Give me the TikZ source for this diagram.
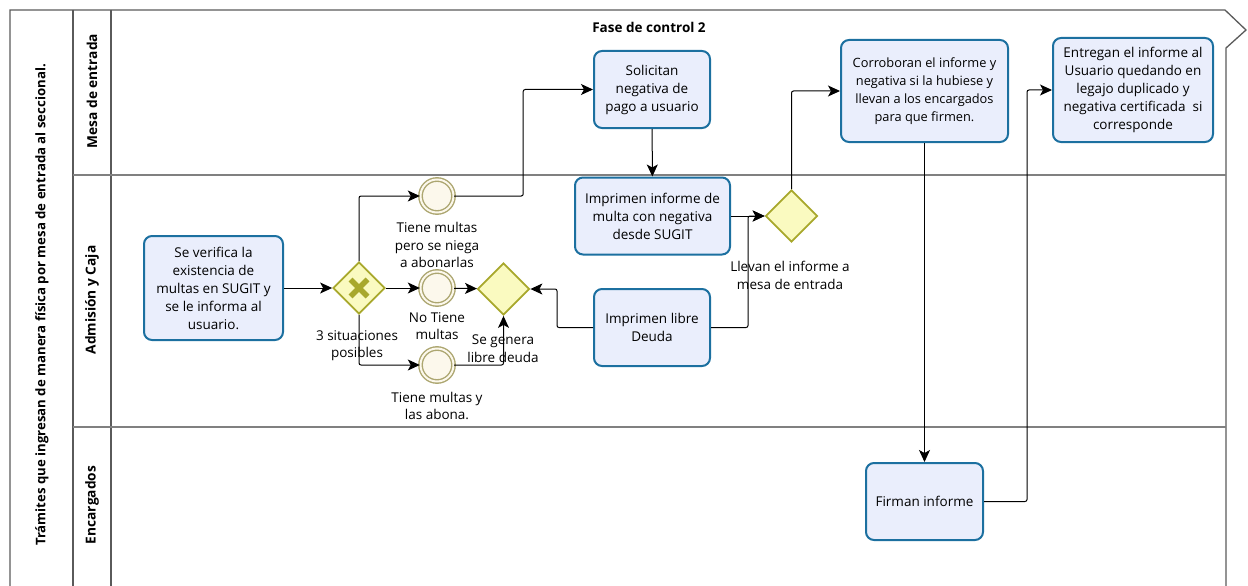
\documentclass[tikz,border=0pt]{standalone}
\usepackage{fontspec}
\setmainfont{Open Sans}
\usetikzlibrary{arrows.meta,shapes.geometric}
\definecolor{taskfill}{RGB}{234,238,252}
\definecolor{taskline}{RGB}{28,112,160}
\definecolor{gwfill}{RGB}{250,250,192}
\definecolor{gwline}{RGB}{168,168,44}
\definecolor{evfill}{RGB}{252,248,236}
\definecolor{evline}{RGB}{172,166,112}
\definecolor{poolline}{RGB}{90,90,90}
\definecolor{laneline}{RGB}{128,128,128}
\begin{document}
\begin{tikzpicture}[x=1pt,y=-1pt,
  task/.style={draw=taskline, line width=2pt, fill=taskfill, rounded corners=8pt,
    align=center, inner sep=2pt, font=\fontsize{13.5}{18}\selectfont},
  gate/.style={diamond, draw=gwline, fill=gwfill, line width=1.8pt,
    minimum width=52pt, minimum height=52pt, inner sep=0pt},
  evt/.style={circle, draw=evline, double=evfill, double distance=2pt,
    line width=1.4pt, fill=evfill, minimum size=33pt, inner sep=0pt},
  lbl/.style={align=center, font=\fontsize{13.5}{17.5}\selectfont, inner sep=0pt},
  lanetitle/.style={rotate=90, font=\bfseries\fontsize{13.7}{15}\selectfont, inner sep=0pt},
  flow/.style={draw=black, line width=1pt, rounded corners=2pt,
    -{Stealth[length=12pt,width=11pt,inset=3pt]}},
  pool/.style={draw=poolline, line width=1.3pt},
  lane/.style={draw=laneline, line width=1.5pt}]

\useasboundingbox (0,0) rectangle (1248,586);

% pool outline and phase header
\draw[pool] (10,586) -- (10,10) -- (1225,10) -- (1246,30) -- (1226,48) -- (1226,586);
\draw[pool] (73,10) -- (73,586);
\draw[pool] (111,10) -- (111,586);
\draw[lane] (73,175) -- (1226,175);
\draw[lane] (73,427) -- (1226,427);

\node[rotate=90, font=\bfseries\fontsize{13.2}{15}\selectfont, inner sep=0pt] (pooltitle) at (42,305)
  {Trámites que ingresan de manera física por mesa de entrada al seccional.};
\node[lanetitle] (lane1) at (92,91) {Mesa de entrada};
\node[lanetitle] (lane2) at (92,300) {Admisión y Caja};
\node[lanetitle] (lane3) at (92,505) {Encargados};
\node[font=\bfseries\fontsize{13.5}{15}\selectfont, inner sep=0pt] (phase) at (649,27) {Fase de control 2};

% tasks
\node[task, minimum width=139pt, minimum height=104pt] (t1) at (213.5,288)
  {Se verifica la\\existencia de\\multas en SUGIT y\\se le informa al\\usuario.};
\node[task, minimum width=116pt, minimum height=77pt] (t2) at (652,89.5)
  {Solicitan\\negativa de\\pago a usuario};
\node[task, minimum width=155pt, minimum height=77pt] (t3) at (652.5,216)
  {Imprimen informe de\\multa con negativa\\desde SUGIT};
\node[task, minimum width=116pt, minimum height=77pt] (t4) at (652,327.5)
  {Imprimen libre\\Deuda};
\node[task, minimum width=167pt, minimum height=102pt, font=\fontsize{12.8}{18}\selectfont] (t5) at (924.5,91)
  {Corroboran el informe y\\negativa si la hubiese y\\llevan a los encargados\\para que firmen.};
\node[task, minimum width=160pt, minimum height=104pt] (t6) at (1133,90)
  {Entregan el informe al\\Usuario quedando en\\legajo duplicado y\\negativa certificada\ \ si\\corresponde};
\node[task, minimum width=117pt, minimum height=77pt] (t7) at (924.5,501.5)
  {Firman informe};

% gateways
\node[gate] (gx) at (359,288) {};
\draw[gwline, line width=5.5pt] ([xshift=-8.5pt,yshift=8.5pt]gx.center) -- ([xshift=8.5pt,yshift=-8.5pt]gx.center)
  ([xshift=-8.5pt,yshift=-8.5pt]gx.center) -- ([xshift=8.5pt,yshift=8.5pt]gx.center);
\node[gate] (gm) at (503.5,289) {};
\node[gate] (g3) at (791.5,216) {};

% intermediate events
\node[evt] (e1) at (437,196) {};
\node[evt] (e2) at (437,288) {};
\node[evt] (e3) at (437,365) {};

% labels
\node[lbl] (le1) at (437,245) {Tiene multas\\pero se niega\\a abonarlas};
\node[lbl] (le2) at (437,326) {No Tiene\\multas};
\node[lbl] (le3) at (437,406) {Tiene multas y\\las abona.};
\node[lbl] (lgx) at (357,345.5) {3 situaciones\\posibles};
\node[lbl] (lgm) at (503,348.5) {Se genera\\libre deuda};
\node[lbl] (lg3) at (790,275.5) {Llevan el informe a\\mesa de entrada};

% sequence flows
\draw[flow] (t1) -- (gx);
\draw[flow] (gx.north) |- (e1.west);
\draw[flow] (gx) -- (e2);
\draw[flow] (gx.south) |- (e3.west);
\draw[flow] (e1.east) -- ++(69,0) |- (t2.west);
\draw[flow] (e2) -- (gm);
\draw[flow] (e3.east) -| (gm.south);
\draw[flow] (t4.west) -- ++(-36,0) |- (gm.east);
\draw[flow] (t2) -- (t3);
\draw[flow] (t3) -- (g3);
\draw[flow] (t4.east) -- ++(37,0) |- (g3.west);
\draw[flow] (g3.north) |- (t5.west);
\draw[flow] (t5) -- (t7);
\draw[flow] (t7.east) -- ++(43,0) |- (t6.west);

\end{tikzpicture}
\end{document}
